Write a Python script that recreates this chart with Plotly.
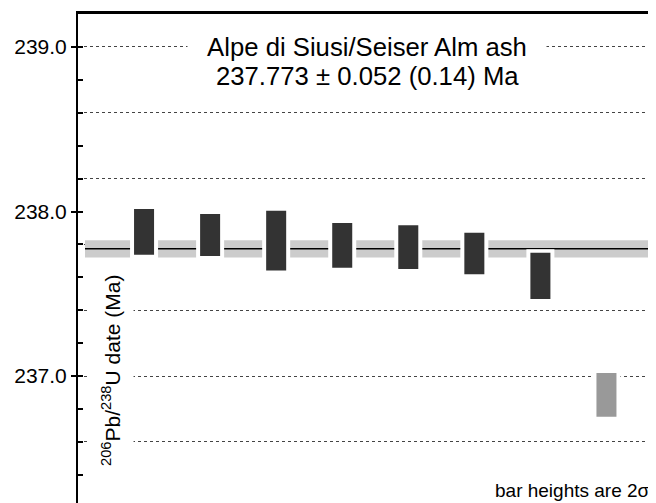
import plotly.graph_objects as go

# ---- data ----
grain_index = [1, 2, 3, 4, 5, 6, 7, 8]
dates_ma = [237.876, 237.857, 237.823, 237.794, 237.784, 237.745, 237.609, 236.886]
err_2s = [0.139, 0.128, 0.181, 0.136, 0.133, 0.126, 0.140, 0.133]
included = [True, True, True, True, True, True, True, False]

weighted_mean = 237.773
weighted_err = 0.052
title_line1 = "Alpe di Siusi/Seiser Alm ash"
title_line2 = "237.773 ± 0.052 (0.14) Ma"
y_title = "<sup>206</sup>Pb/<sup>238</sup>U date (Ma)"
note_text = "bar heights are 2σ"

# ---- style / layout constants ----
X_RANGE = [0, 8.75]
Y_RANGE = [236.229, 239.2]
BAND_X0 = 0.106
BAR_W = 0.303
HALO_W = 0.424
HALO_PAD = 0.021
FONT = "Liberation Sans, Arial, sans-serif"
PAGE_OFFSET = 8  # default body margin of the html page

fig = go.Figure()

# weighted-mean band (base subplot)
bx = [BAND_X0, X_RANGE[1], X_RANGE[1], BAND_X0, BAND_X0]
by = [weighted_mean - weighted_err, weighted_mean - weighted_err,
      weighted_mean + weighted_err, weighted_mean + weighted_err,
      weighted_mean - weighted_err]
fig.add_trace(go.Scatter(x=bx, y=by, fill="toself", fillcolor="#cccccc",
                         line=dict(width=0), mode="lines", hoverinfo="skip"))
fig.add_trace(go.Scatter(x=[BAND_X0, X_RANGE[1]], y=[weighted_mean, weighted_mean],
                         mode="lines", line=dict(color="black", width=1.5),
                         hoverinfo="skip"))

# white halos behind bars (overlay subplot, drawn above band)
fig.add_trace(go.Bar(
    x=grain_index, yaxis="y2",
    base=[d - e - HALO_PAD for d, e in zip(dates_ma, err_2s)],
    y=[2 * e + 2 * HALO_PAD for e in err_2s],
    width=HALO_W, marker=dict(color="white", line=dict(width=0)),
    hoverinfo="skip"))

# date bars
fig.add_trace(go.Bar(
    x=grain_index, yaxis="y2",
    base=[d - e for d, e in zip(dates_ma, err_2s)],
    y=[2 * e for e in err_2s],
    width=BAR_W,
    marker=dict(color=["#333333" if inc else "#999999" for inc in included],
                line=dict(width=0)),
    hoverinfo="skip"))

fig.update_layout(
    width=656 - PAGE_OFFSET, height=503 - PAGE_OFFSET,
    margin=dict(l=78 - PAGE_OFFSET, r=0, t=14 - PAGE_OFFSET, b=0),
    paper_bgcolor="white", plot_bgcolor="white",
    showlegend=False, barmode="overlay",
    font=dict(family=FONT, color="black"),
    xaxis=dict(range=X_RANGE, side="top", showline=True, linecolor="black",
               linewidth=2.5, ticks="", showticklabels=False, showgrid=False,
               zeroline=False, fixedrange=True, automargin=False),
    yaxis=dict(range=Y_RANGE, showline=True, linecolor="black", linewidth=2,
               tick0=237, dtick=1, tickformat=".1f", ticks="outside",
               ticklen=5, tickwidth=1.5, tickcolor="black",
               tickfont=dict(size=21, family=FONT),
               showgrid=False, zeroline=False, fixedrange=True,
               automargin=False),
    yaxis2=dict(range=Y_RANGE, overlaying="y", side="left", anchor="x",
                tick0=236.6, dtick=0.4, ticks="inside", ticklen=5,
                tickwidth=1.5, tickcolor="black", showticklabels=False,
                showgrid=True, gridcolor="#444444", griddash="dot",
                gridwidth=1, zeroline=False, showline=False,
                minor=dict(dtick=0.2, ticks="inside", ticklen=5,
                           tickwidth=1.5, tickcolor="black", showgrid=False),
                fixedrange=True, automargin=False),
)

fig.add_annotation(x=4.375, y=239.0, xref="x", yref="y", text=title_line1,
                   showarrow=False, font=dict(size=25.7, family=FONT),
                   bgcolor="white", width=350, borderpad=4,
                   xanchor="center", yanchor="middle")
fig.add_annotation(x=4.375, y=238.826, xref="x", yref="y", text=title_line2,
                   showarrow=False, font=dict(size=25.7, family=FONT),
                   xanchor="center", yanchor="middle")
fig.add_annotation(x=0.50, y=237.031, xref="x", yref="y", text=y_title,
                   textangle=-90, showarrow=False,
                   font=dict(size=21, family=FONT),
                   bgcolor="white", borderpad=9,
                   xanchor="center", yanchor="middle")
fig.add_annotation(x=8.69, y=236.308, xref="x", yref="y", text=note_text,
                   showarrow=False, font=dict(size=19, family=FONT),
                   xanchor="right", yanchor="middle")

fig.write_html("out.html")
